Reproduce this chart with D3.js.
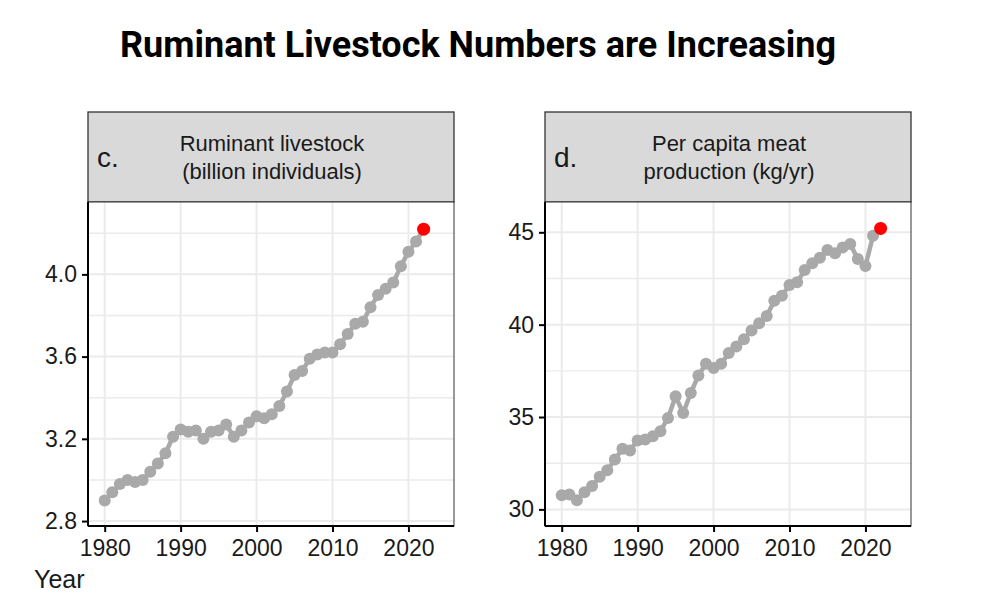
<!DOCTYPE html>
<html>
<head>
<meta charset="utf-8">
<script src="https://cdn.jsdelivr.net/npm/d3@7"></script>
<style>
  body { margin: 0; background: #fff; }
  text { font-family: "Liberation Sans", Arial, sans-serif; }
</style>
</head>
<body>
<svg id="chart" width="1000" height="616"></svg>
<script>
// years 1980..2022
const years = d3.range(1980, 2023);
// billion individuals
const livestock = [2.90, 2.94, 2.98, 3.00, 2.99, 3.00, 3.04, 3.08, 3.13, 3.21,
  3.245, 3.235, 3.24, 3.20, 3.235, 3.24, 3.27, 3.21, 3.24, 3.28,
  3.31, 3.30, 3.32, 3.36, 3.43, 3.51, 3.53, 3.59, 3.61, 3.62,
  3.62, 3.66, 3.71, 3.76, 3.77, 3.84, 3.90, 3.93, 3.96, 4.04,
  4.11, 4.16, 4.22];
// kg/yr
const meat = [30.76, 30.81, 30.49, 30.93, 31.26, 31.76, 32.12, 32.70, 33.28, 33.19,
  33.73, 33.78, 33.96, 34.23, 34.95, 36.12, 35.22, 36.30, 37.25, 37.88,
  37.65, 37.88, 38.46, 38.82, 39.21, 39.68, 40.08, 40.47, 41.29, 41.56,
  42.15, 42.29, 42.96, 43.32, 43.62, 44.04, 43.86, 44.18, 44.36, 43.55,
  43.17, 44.81, 45.21];
const xTicks = [1980, 1990, 2000, 2010, 2020];
const livestockTicks = [2.8, 3.2, 3.6, 4.0];
const livestockMinor = [3.0, 3.4, 3.8, 4.2];
const meatTicks = [30, 35, 40, 45];
const meatMinor = [32.5, 37.5, 42.5];

const svg = d3.select("#chart");

svg.append("text")
  .attr("x", 478).attr("y", 57)
  .attr("text-anchor", "middle")
  .style("font-family", "Roboto, sans-serif")
  .style("font-weight", "bold")
  .style("font-size", "36px")
  .attr("fill", "#000")
  .text("Ruminant Livestock Numbers are Increasing");

const panels = [
  { left: 88, right: 454, values: livestock, domain: [2.776, 4.352],
    ticks: livestockTicks, minor: livestockMinor, fmt: d3.format(".1f"),
    tag: "c.", lines: ["Ruminant livestock", "(billion individuals)"] },
  { left: 545, right: 911, values: meat, domain: [29.1, 46.64],
    ticks: meatTicks, minor: meatMinor, fmt: d3.format("d"),
    tag: "d.", lines: ["Per capita meat", "production (kg/yr)"] }
];

const plotTop = 202, plotBottom = 526, stripTop = 112;

panels.forEach(p => {
  const g = svg.append("g");
  const x = d3.scaleLinear().domain([1977.8, 2026]).range([p.left, p.right]);
  const y = d3.scaleLinear().domain(p.domain).range([plotBottom, plotTop]);

  // strip
  g.append("rect")
    .attr("x", p.left).attr("y", stripTop)
    .attr("width", p.right - p.left).attr("height", plotTop - stripTop)
    .attr("fill", "#d9d9d9").attr("stroke", "#333").attr("stroke-width", 1.3);
  g.append("text")
    .attr("x", p.left + 9).attr("y", 167)
    .style("font-size", "28px").attr("fill", "#1a1a1a")
    .text(p.tag);
  p.lines.forEach((l, i) => {
    g.append("text")
      .attr("x", (p.left + p.right) / 2 + 1).attr("y", 151 + i * 28)
      .attr("text-anchor", "middle")
      .style("font-size", "22px").attr("fill", "#1a1a1a")
      .text(l);
  });

  // panel
  g.append("rect")
    .attr("x", p.left).attr("y", plotTop)
    .attr("width", p.right - p.left).attr("height", plotBottom - plotTop)
    .attr("fill", "#fff");

  // grid
  const gridColor = "#ebebeb";
  g.selectAll(".hmin").data(p.minor).join("line")
    .attr("x1", p.left).attr("x2", p.right)
    .attr("y1", d => y(d)).attr("y2", d => y(d))
    .attr("stroke", gridColor).attr("stroke-width", 1.4);
  g.selectAll(".hmaj").data(p.ticks).join("line")
    .attr("x1", p.left).attr("x2", p.right)
    .attr("y1", d => y(d)).attr("y2", d => y(d))
    .attr("stroke", gridColor).attr("stroke-width", 2);
  g.selectAll(".vmaj").data(xTicks).join("line")
    .attr("y1", plotTop).attr("y2", plotBottom)
    .attr("x1", d => x(d)).attr("x2", d => x(d))
    .attr("stroke", gridColor).attr("stroke-width", 2);

  // border
  g.append("rect")
    .attr("x", p.left).attr("y", plotTop)
    .attr("width", p.right - p.left).attr("height", plotBottom - plotTop)
    .attr("fill", "none").attr("stroke", "#333").attr("stroke-width", 1);

  // series
  const pts = years.map((yr, i) => [yr, p.values[i]]);
  g.append("path")
    .datum(pts)
    .attr("fill", "none").attr("stroke", "#a9a9a9").attr("stroke-width", 4.5)
    .attr("stroke-linejoin", "round")
    .attr("d", d3.line().x(d => x(d[0])).y(d => y(d[1])));
  g.selectAll(".pt").data(pts.slice(0, -1)).join("circle")
    .attr("cx", d => x(d[0])).attr("cy", d => y(d[1]))
    .attr("r", 6).attr("fill", "#a9a9a9");
  const last = pts[pts.length - 1];
  g.append("circle")
    .attr("cx", x(last[0])).attr("cy", y(last[1]))
    .attr("r", 6.5).attr("fill", "#f00");

  // axes
  const ax = g.append("g")
    .attr("transform", `translate(0,${plotBottom})`)
    .call(d3.axisBottom(x).tickValues(xTicks).tickFormat(d3.format("d")).tickSize(6).tickPadding(8));
  const ay = g.append("g")
    .attr("transform", `translate(${p.left},0)`)
    .call(d3.axisLeft(y).tickValues(p.ticks).tickFormat(p.fmt).tickSize(6).tickPadding(5));
  [ax, ay].forEach(a => {
    a.select(".domain").attr("stroke", "#000").attr("stroke-width", 2);
    a.selectAll(".tick line").attr("stroke", "#000").attr("stroke-width", 2);
    a.selectAll(".tick text")
      .style("font-family", "'Liberation Sans', Arial, sans-serif")
      .style("font-size", "23px").attr("fill", "#1a1a1a");
  });
  ax.select(".domain").attr("d", `M${p.left},0H${p.right}`);
  ay.select(".domain").attr("d", `M0,${plotTop}V${plotBottom}`);
});

svg.append("text")
  .attr("x", 34).attr("y", 588)
  .style("font-size", "25px").attr("fill", "#1a1a1a")
  .text("Year");
</script>
</body>
</html>
